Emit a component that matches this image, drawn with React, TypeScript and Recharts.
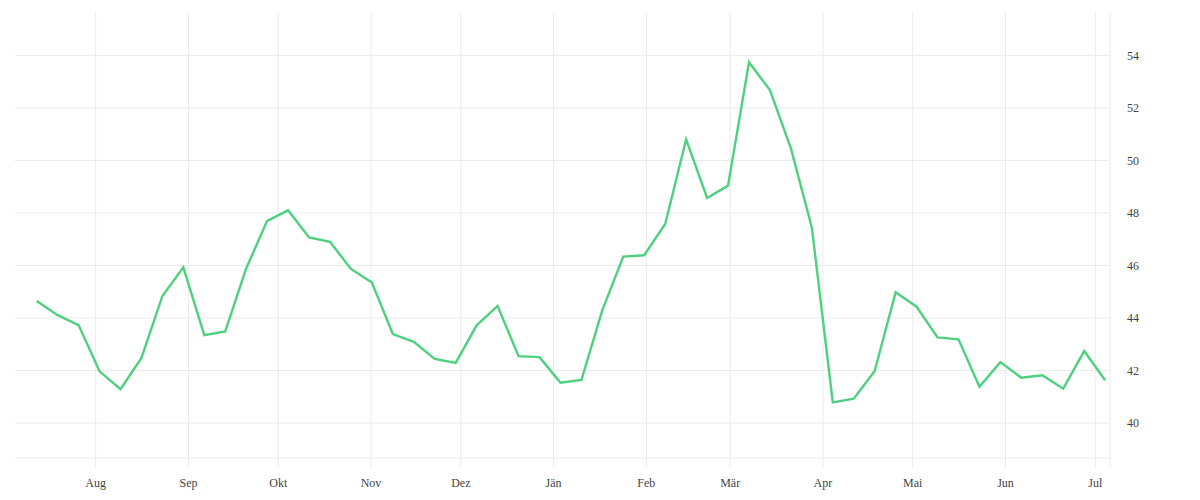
import React from 'react';
import { LineChart, Line, XAxis, YAxis, CartesianGrid } from 'recharts';

const dates: string[] = [
  '2022-07-12', '2022-07-19', '2022-07-26', '2022-08-02', '2022-08-09', '2022-08-16', '2022-08-23', '2022-08-30',
  '2022-09-06', '2022-09-13', '2022-09-20', '2022-09-27', '2022-10-04', '2022-10-11', '2022-10-18', '2022-10-25',
  '2022-11-01', '2022-11-08', '2022-11-15', '2022-11-22', '2022-11-29', '2022-12-06', '2022-12-13', '2022-12-20',
  '2022-12-27', '2023-01-03', '2023-01-10', '2023-01-17', '2023-01-24', '2023-01-31', '2023-02-07', '2023-02-14',
  '2023-02-21', '2023-02-28', '2023-03-07', '2023-03-14', '2023-03-21', '2023-03-28', '2023-04-04', '2023-04-11',
  '2023-04-18', '2023-04-25', '2023-05-02', '2023-05-09', '2023-05-16', '2023-05-23', '2023-05-30', '2023-06-06',
  '2023-06-13', '2023-06-20', '2023-06-27', '2023-07-04',
];

const values: number[] = [
  44.65, 44.11, 43.73, 41.97, 41.29, 42.48, 44.84, 45.93,
  43.35, 43.49, 45.89, 47.7, 48.1, 47.07, 46.9, 45.87,
  45.35, 43.39, 43.09, 42.44, 42.29, 43.72, 44.46, 42.55,
  42.51, 41.54, 41.64, 44.3, 46.34, 46.39, 47.58, 50.8,
  48.57, 49.04, 53.74, 52.68, 50.46, 47.45, 40.79, 40.93,
  41.98, 44.98, 44.43, 43.26, 43.19, 41.38, 42.32, 41.73,
  41.82, 41.31, 42.74, 41.63,
];

const monthTickDates: string[] = [
  '2022-08-01', '2022-09-01', '2022-10-01', '2022-11-01', '2022-12-01', '2023-01-01',
  '2023-02-01', '2023-03-01', '2023-04-01', '2023-05-01', '2023-06-01', '2023-07-01',
];
const monthLabels: string[] = ['Aug', 'Sep', 'Okt', 'Nov', 'Dez', 'Jän', 'Feb', 'Mär', 'Apr', 'Mai', 'Jun', 'Jul'];

const yTicks: number[] = [40, 42, 44, 46, 48, 50, 52, 54];

const toMs = (s: string) => Date.parse(s + 'T07:00:00Z');
const domainStart = Date.parse('2022-07-05T01:00:00Z');
const domainEnd = Date.parse('2023-07-05T22:00:00Z');

const data = dates.map((d, i) => ({ t: toMs(d), v: values[i] }));
const monthTicks = monthTickDates.map((d) => Date.parse(d + 'T00:00:00Z'));
const xTicks = [...monthTicks, domainEnd];

const labelFor = (t: number) => {
  const idx = monthTicks.indexOf(t);
  return idx >= 0 ? monthLabels[idx] : '';
};

const GRID = '#ebebeb';
const TEXT = '#444444';

export default function App() {
  return (
    <LineChart width={1184} height={484} data={data} margin={{ top: 4.3, right: 0, left: 7, bottom: 0 }}>
      <CartesianGrid stroke={GRID} strokeWidth={1} syncWithTicks />
      <XAxis
        dataKey="t"
        type="number"
        scale="time"
        domain={[domainStart, domainEnd]}
        ticks={xTicks}
        tickFormatter={labelFor}
        interval={0}
        height={34}
        axisLine={{ stroke: GRID }}
        tickLine={{ stroke: GRID }}
        tickSize={10}
        tickMargin={10}
        tick={{ fill: TEXT, fontSize: 12 }}
        allowDataOverflow
      />
      <YAxis
        orientation="right"
        type="number"
        domain={[38.67, 55.64]}
        ticks={yTicks}
        interval={0}
        width={82}
        axisLine={false}
        tickLine={false}
        tickSize={0}
        tickMargin={17}
        tick={{ fill: TEXT, fontSize: 12 }}
        allowDataOverflow
      />
      <Line
        type="linear"
        dataKey="v"
        stroke="#4ed17e"
        strokeWidth={2.4}
        dot={false}
        activeDot={false}
        isAnimationActive={false}
      />
    </LineChart>
  );
}
